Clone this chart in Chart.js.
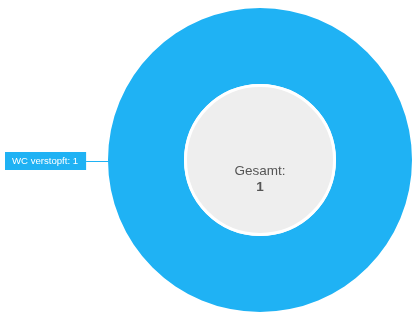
<!DOCTYPE html>
<html>
<head>
<meta charset="utf-8">
<script src="https://cdn.jsdelivr.net/npm/chart.js@4/dist/chart.umd.min.js"></script>
<style>
    html, body { margin: 0; padding: 0; background: #fff; }
    #wrap { width: 414px; height: 313px; }
</style>
</head>
<body>
<div id="wrap"><canvas id="chart"></canvas></div>
<script>
// Chart data
const categories = ['WC verstopft'];
const values = [1];
const colors = ['#1fb2f4'];
const totalLabel = 'Gesamt:';

// Center circle + total text
const centerPlugin = {
    id: 'centerTotal',
    afterDatasetsDraw(chart) {
        const ctx = chart.ctx;
        const arc = chart.getDatasetMeta(0).data[0];
        const total = values.reduce((a, b) => a + b, 0);
        ctx.save();
        ctx.beginPath();
        ctx.arc(arc.x, arc.y, arc.innerRadius - 1.5, 0, Math.PI * 2);
        ctx.fillStyle = '#eeeeee';
        ctx.fill();
        ctx.lineWidth = 3;
        ctx.strokeStyle = '#ffffff';
        ctx.stroke();

        ctx.fillStyle = '#555555';
        ctx.textAlign = 'center';
        ctx.textBaseline = 'middle';
        ctx.font = '13.5px "Liberation Sans", Arial, sans-serif';
        ctx.fillText(totalLabel, arc.x, arc.y + 11);
        ctx.font = 'bold 13.5px "Liberation Sans", Arial, sans-serif';
        ctx.fillText(String(total), arc.x, arc.y + 27);
        ctx.restore();
    }
};

// Callout labels on the left
const calloutPlugin = {
    id: 'callouts',
    afterDatasetsDraw(chart) {
        const ctx = chart.ctx;
        const meta = chart.getDatasetMeta(0);
        ctx.save();
        meta.data.forEach((arc, i) => {
            const text = categories[i] + ': ' + values[i];
            ctx.font = '9.6px "Liberation Sans", Arial, sans-serif';
            const w = ctx.measureText(text).width + 15;
            const h = 18;
            const bx = 5;
            const by = arc.y - h / 2 + 1;
            ctx.fillStyle = colors[i];
            ctx.fillRect(bx, by, w, h);
            ctx.strokeStyle = colors[i];
            ctx.lineWidth = 1;
            ctx.beginPath();
            ctx.moveTo(bx + w, arc.y + 1.5);
            ctx.lineTo(arc.x - arc.outerRadius + 1, arc.y + 1.5);
            ctx.stroke();
            ctx.fillStyle = '#ffffff';
            ctx.textAlign = 'left';
            ctx.textBaseline = 'middle';
            ctx.fillText(text, bx + 7, by + h / 2);
        });
        ctx.restore();
    }
};

new Chart(document.getElementById('chart'), {
    type: 'doughnut',
    data: {
        labels: categories,
        datasets: [{
            data: values,
            backgroundColor: colors,
            borderWidth: 0
        }]
    },
    options: {
        responsive: true,
        maintainAspectRatio: false,
        animation: false,
        cutout: '50%',
        layout: {
            padding: { left: 108, right: 2, top: 8, bottom: 1 }
        },
        plugins: {
            legend: { display: false },
            tooltip: { enabled: false }
        }
    },
    plugins: [centerPlugin, calloutPlugin]
});
</script>
</body>
</html>
